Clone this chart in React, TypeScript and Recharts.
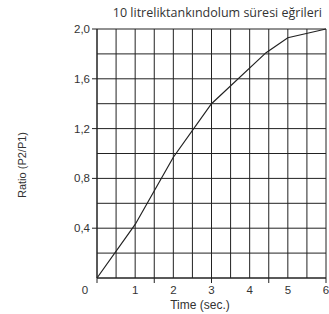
import { CartesianGrid, Line, LineChart, XAxis, YAxis } from "recharts";

// Values (time in sec, ratio P2/P1).
const TIME = [0, 1, 2, 3, 4.43, 5, 6];
const RATIO = [0, 0.43, 0.97, 1.4, 1.81, 1.93, 2.0];

const X_TICKS = [0, 0.5, 1, 1.5, 2, 2.5, 3, 3.5, 4, 4.5, 5, 5.5, 6];
const X_MARKED = [0, 1.5, 3, 4.5, 6];
const Y_TICKS = [0, 0.2, 0.4, 0.6, 0.8, 1.0, 1.2, 1.4, 1.6, 1.8, 2.0];

const TITLE = "10 litreliktankındolum süresi eğrileri";
const X_LABEL = "Time (sec.)";
const Y_LABEL = "Ratio (P2/P1)";

const FONT = "'Liberation Sans', Arial, sans-serif";
const TITLE_FONT = "'Open Sans', 'Noto Sans', sans-serif";
const INK = "#222";
const TEXT = "#333";

const data = TIME.map((t, i) => ({ t, r: RATIO[i] }));

const isLabelledY = (v: number) => v > 0 && Math.abs(v / 0.4 - Math.round(v / 0.4)) < 1e-6;

function XTick(props: any) {
  const { x, y, payload } = props;
  const v = payload.value as number;
  return (
    <g>
      {X_MARKED.includes(v) && <line x1={x} x2={x} y1={y} y2={y + 5} stroke={INK} />}
      {Number.isInteger(v) && (
        <text x={v === 0 ? x - 12 : x} y={y + 16} textAnchor="middle" fontSize={11.5} fill={TEXT} fontFamily={FONT}>
          {v}
        </text>
      )}
    </g>
  );
}

function YTick(props: any) {
  const { x, y, payload } = props;
  const v = payload.value as number;
  if (!isLabelledY(v)) return <g />;
  return (
    <g>
      <line x1={x - 5} x2={x} y1={y} y2={y} stroke={INK} />
      <text x={x - 7} y={y + 4} textAnchor="end" fontSize={11.5} fill={TEXT} fontFamily={FONT}>
        {v.toFixed(1).replace(".", ",")}
      </text>
    </g>
  );
}

export default function App() {
  return (
    <div style={{ position: "relative", width: 329, height: 314 }}>
      <style>{"body{margin:0;overflow:hidden}"}</style>
      <div
        style={{
          position: "absolute", left: 0, top: 6, width: 322, textAlign: "right", whiteSpace: "nowrap",
          fontSize: 12.5, lineHeight: "13px", fontFamily: TITLE_FONT, color: TEXT, letterSpacing: 0,
        }}
      >
        {TITLE}
      </div>
      <LineChart width={329} height={314} data={data} margin={{ top: 29, right: 3, left: 0, bottom: 0 }}>
        <CartesianGrid stroke={INK} strokeWidth={1} />
        <XAxis
          dataKey="t" type="number" domain={[0, 6]} ticks={X_TICKS} interval={0}
          height={36} tickSize={0} tickMargin={0} tickLine={false}
          axisLine={{ stroke: INK }} tick={<XTick />}
          label={{
            content: () => (
              <text x={200} y={308.5} textAnchor="middle" fontSize={12} fill={TEXT} fontFamily={FONT}>
                {X_LABEL}
              </text>
            ),
          }}
        />
        <YAxis
          type="number" domain={[0, 2]} ticks={Y_TICKS} interval={0}
          width={97} tickSize={0} tickMargin={0} tickLine={false}
          axisLine={{ stroke: INK }} tick={<YTick />}
          label={{
            content: () => (
              <text x={26} y={165} transform="rotate(-90 26 165)" textAnchor="middle" fontSize={11} fill={TEXT} fontFamily={FONT}>
                {Y_LABEL}
              </text>
            ),
          }}
        />
        <Line
          type="linear" dataKey="r" stroke={INK} strokeWidth={1.2} dot={false} isAnimationActive={false}
        />
      </LineChart>
    </div>
  );
}
